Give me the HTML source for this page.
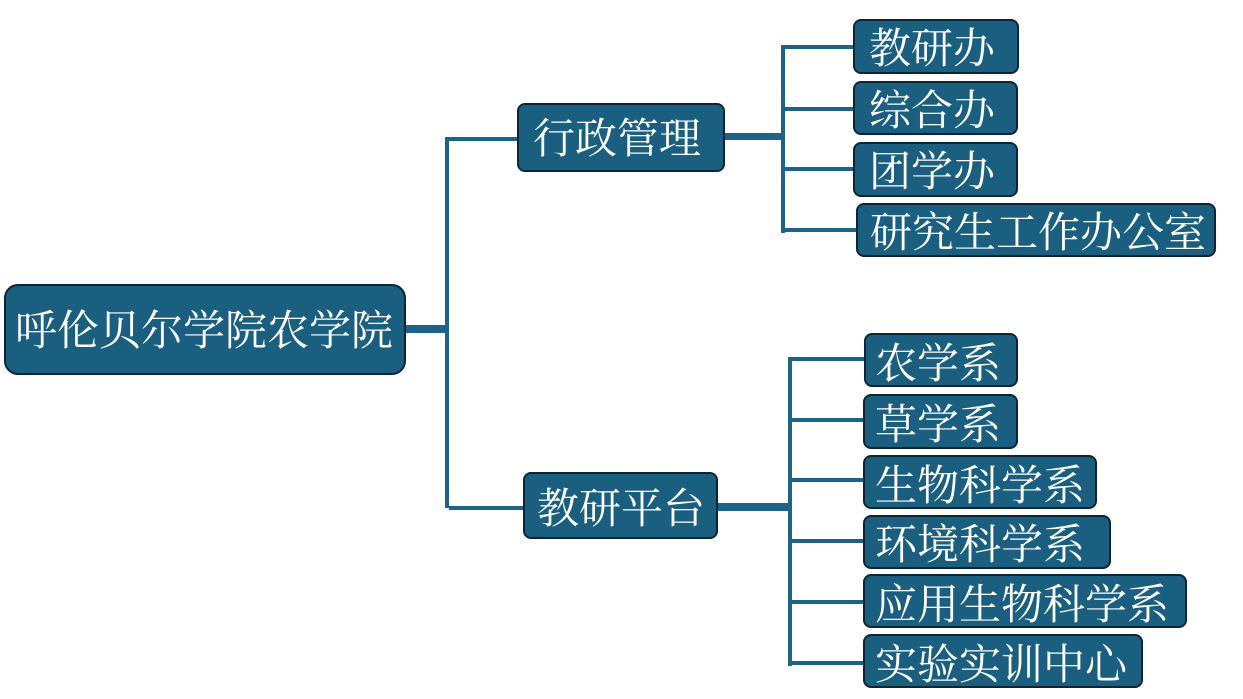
<!DOCTYPE html>
<html><head><meta charset="utf-8">
<style>
html,body{margin:0;padding:0;background:#fff;}
body{width:1243px;height:699px;position:relative;overflow:hidden;}
.b{position:absolute;box-sizing:border-box;background:#1a5f80;border:2px solid #0c2533;border-radius:8px;color:#fff;
font-family:"Liberation Serif","Noto Serif CJK SC",serif;font-size:42px;white-space:nowrap;}
.b span{position:absolute;left:0;top:0;}
.l{position:absolute;background:#1b6388;}
</style></head><body>
<!-- connectors -->
<div class="l" style="left:405px;top:325px;width:44px;height:8px;"></div>
<div class="l" style="left:445px;top:137px;width:4px;height:371px;"></div>
<div class="l" style="left:445px;top:137px;width:74px;height:4px;"></div>
<div class="l" style="left:449px;top:506px;width:75px;height:4px;"></div>

<div class="l" style="left:724px;top:133px;width:61px;height:7px;"></div>
<div class="l" style="left:781px;top:45px;width:4px;height:188px;"></div>
<div class="l" style="left:781px;top:45px;width:73px;height:4px;"></div>
<div class="l" style="left:781px;top:107px;width:73px;height:4px;"></div>
<div class="l" style="left:781px;top:167px;width:73px;height:4px;"></div>
<div class="l" style="left:781px;top:228px;width:76px;height:4px;"></div>

<div class="l" style="left:717px;top:503px;width:75px;height:8px;"></div>
<div class="l" style="left:788px;top:357px;width:4px;height:309px;"></div>
<div class="l" style="left:788px;top:357px;width:77px;height:4px;"></div>
<div class="l" style="left:788px;top:418px;width:76px;height:4px;"></div>
<div class="l" style="left:788px;top:478px;width:76px;height:4px;"></div>
<div class="l" style="left:788px;top:539px;width:76px;height:4px;"></div>
<div class="l" style="left:788px;top:600px;width:76px;height:4px;"></div>
<div class="l" style="left:788px;top:661px;width:76px;height:4px;"></div>

<!-- root -->
<div class="b" style="left:4px;top:284px;width:402px;height:91px;border-radius:14px;font-size:42px;"><span style="left:9px;top:20px;line-height:52px;">呼伦贝尔学院农学院</span></div>

<!-- level 1 -->
<div class="b" style="left:517px;top:103px;width:208px;height:69px;"><span style="left:14px;top:9px;line-height:52px;">行政管理</span></div>
<div class="b" style="left:523px;top:472px;width:195px;height:67px;"><span style="left:12px;top:10px;line-height:52px;">教研平台</span></div>

<!-- top children -->
<div class="b" style="left:853px;top:19px;width:166px;height:55px;"><span style="left:14px;top:3px;line-height:52px;">教研办</span></div>
<div class="b" style="left:853px;top:81px;width:165px;height:54px;"><span style="left:14px;top:3px;line-height:52px;">综合办</span></div>
<div class="b" style="left:853px;top:142px;width:165px;height:55px;"><span style="left:14px;top:3px;line-height:52px;">团学办</span></div>
<div class="b" style="left:856px;top:203px;width:360px;height:54px;"><span style="left:12px;top:3px;line-height:52px;">研究生工作办公室</span></div>

<!-- bottom children -->
<div class="b" style="left:864px;top:333px;width:154px;height:54px;"><span style="left:9px;top:4px;line-height:52px;">农学系</span></div>
<div class="b" style="left:863px;top:394px;width:155px;height:55px;"><span style="left:10px;top:4px;line-height:52px;">草学系</span></div>
<div class="b" style="left:863px;top:455px;width:234px;height:54px;"><span style="left:10px;top:4px;line-height:52px;">生物科学系</span></div>
<div class="b" style="left:863px;top:515px;width:248px;height:54px;"><span style="left:10px;top:3px;line-height:52px;">环境科学系</span></div>
<div class="b" style="left:863px;top:574px;width:324px;height:54px;"><span style="left:10px;top:4px;line-height:52px;">应用生物科学系</span></div>
<div class="b" style="left:863px;top:634px;width:280px;height:54px;"><span style="left:10px;top:4px;line-height:52px;">实验实训中心</span></div>
</body></html>
